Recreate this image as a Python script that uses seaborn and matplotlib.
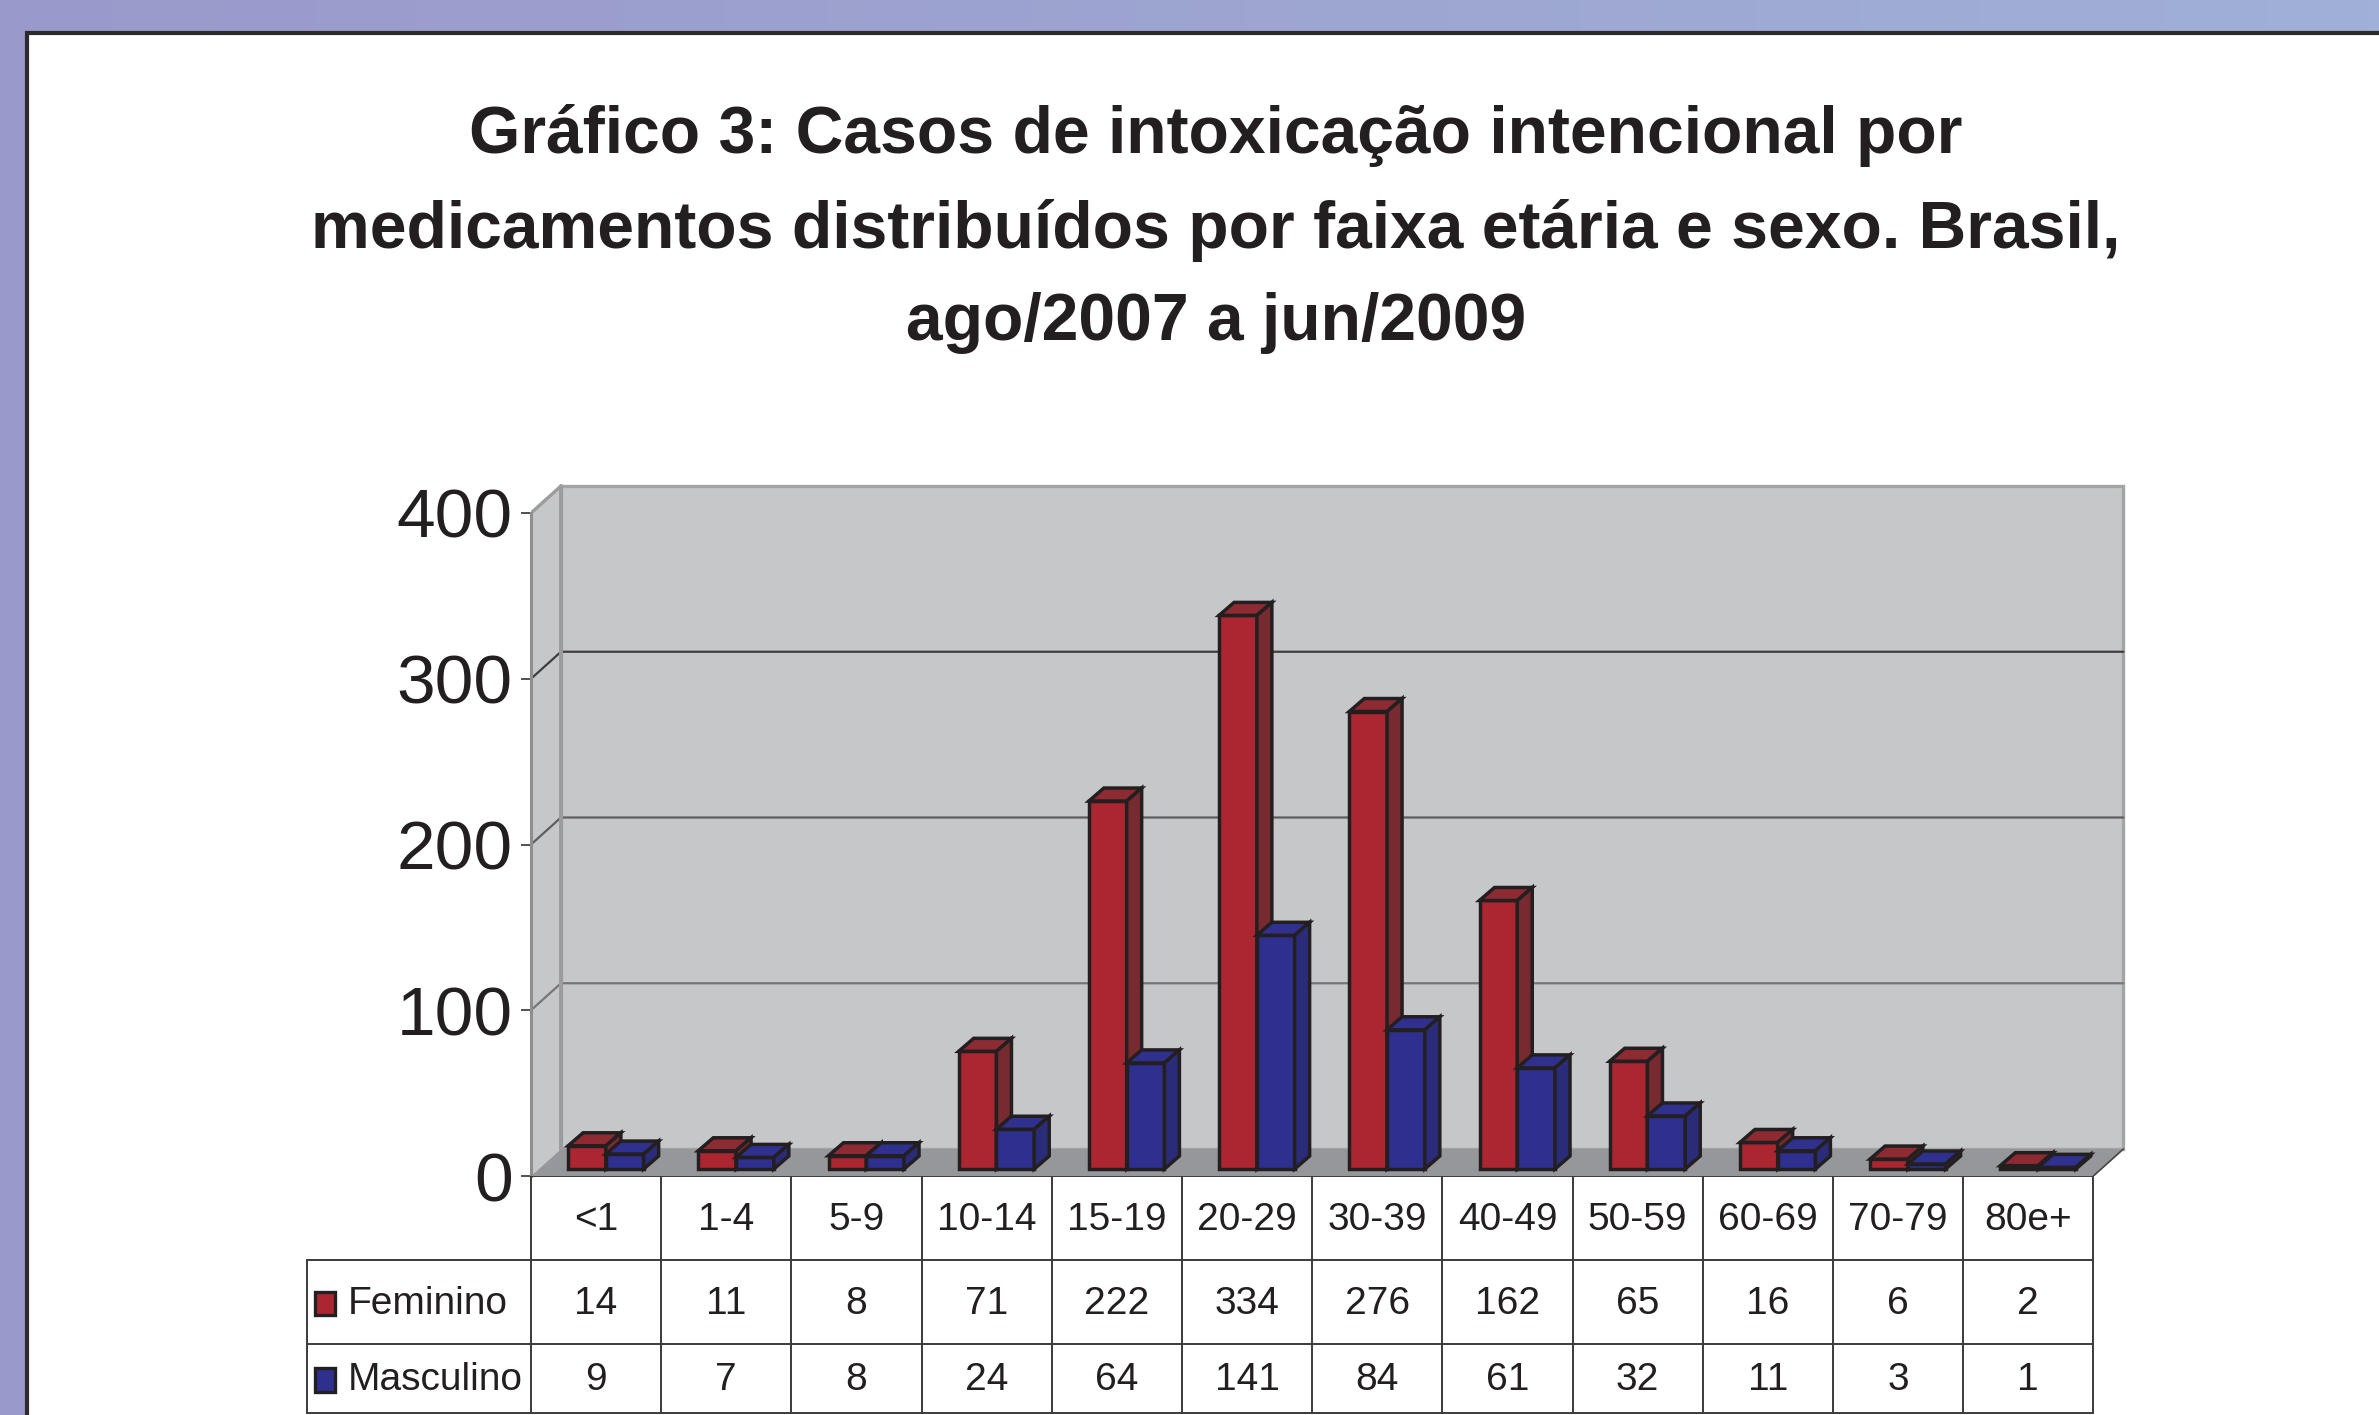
"""Grafico 3: casos de intoxicacao intencional por medicamentos, por faixa etaria e sexo."""

import matplotlib

matplotlib.use("Agg")

import matplotlib.pyplot as plt
import numpy as np
import pandas as pd
import seaborn as sns
from matplotlib import font_manager
from matplotlib.colors import to_rgba
from matplotlib.patches import Polygon, Rectangle


# dados
AGE_GROUPS = ["<1", "1-4", "5-9", "10-14", "15-19", "20-29",
              "30-39", "40-49", "50-59", "60-69", "70-79", "80e+"]
FEMININO = [14, 11, 8, 71, 222, 334, 276, 162, 65, 16, 6, 2]
MASCULINO = [9, 7, 8, 24, 64, 141, 84, 61, 32, 11, 3, 1]
SEXES = ["Feminino", "Masculino"]
Y_TICKS = [0, 100, 200, 300, 400]
TITLE_LINES = [
    "Gráfico 3: Casos de intoxicação intencional por",
    "medicamentos distribuídos por faixa etária e sexo. Brasil,",
    "ago/2007 a jun/2009",
]

# cores
FRONT = {"Feminino": "#ab2630", "Masculino": "#2e2f8f"}
TOP = {"Feminino": "#8d2a32", "Masculino": "#30318f"}
SIDE = {"Feminino": "#772a2f", "Masculino": "#2b2c79"}
EDGE = "#231f20"
WALL = "#c6c7c9"
FLOOR = "#96979a"
TEXT = "#231f20"

# fontes (a original e uma Helvetica condensada)
available = {f.name for f in font_manager.fontManager.ttflist}
if "Liberation Sans Narrow" in available:
    FONT = "Liberation Sans Narrow"
    TITLE_SIZE, TICK_SIZE, TABLE_SIZE = 52, 54, 31
else:
    FONT = "Liberation Sans"
    TITLE_SIZE, TICK_SIZE, TABLE_SIZE = 47.5, 50, 28

sns.set_style("white")
plt.rcParams["font.family"] = [FONT, "DejaVu Sans"]

# geometria em pixels da figura
W, H = 2379, 1415
X0_PX, CAT_PX = 531, 130.2       # x=0 e largura de cada faixa
Y0_PX, UNIT_PX = 1176, 1.6575    # y=0 e pixels por caso
RIGHT_PX, TOP_PX = 2150, 470

WALL_DX, WALL_DY = 30 / CAT_PX, 27 / UNIT_PX
BAR_DX, BAR_DY = 15 / CAT_PX, 13 / UNIT_PX
BAR_BASE = 7 / UNIT_PX


def fig_rect(left, top, right, bottom):
    return [left / W, 1 - bottom / H, (right - left) / W, (bottom - top) / H]


fig = plt.figure(figsize=(W / 100, H / 100), dpi=100)

# fundo roxo e painel branco
bg = fig.add_axes([0, 0, 1, 1], zorder=-10)
grad = np.linspace(0, 1, 256)[None, :, None]
left_c = np.array([154, 153, 203]) / 255
right_c = np.array([160, 176, 214]) / 255
bg.imshow(left_c + grad * (right_c - left_c), aspect="auto", extent=[0, W, H, 0])
bg.add_patch(Rectangle((27, 33), W, H, facecolor="white", edgecolor="#2b2b2b", linewidth=3))
bg.set_xlim(0, W)
bg.set_ylim(H, 0)
bg.axis("off")

# titulo
for line, base in zip(TITLE_LINES, [153, 248, 340]):
    fig.text(1216 / W, 1 - base / H, line, ha="center", va="baseline",
             fontsize=TITLE_SIZE, fontweight="bold", color=TEXT)

# grafico principal
ax = fig.add_axes(fig_rect(X0_PX, TOP_PX, RIGHT_PX, Y0_PX))
ax.set_facecolor("none")
n = len(AGE_GROUPS)

plot_data = pd.DataFrame(
    {
        "pos": np.concatenate([np.arange(n) + 0.575, np.arange(n) + 0.575]),
        "casos": FEMININO + MASCULINO,
        "sexo": ["Feminino"] * n + ["Masculino"] * n,
    }
)

# paredes e piso
ax.add_patch(Rectangle((WALL_DX, WALL_DY), n, 400, facecolor=WALL,
                       edgecolor="#a3a4a6", linewidth=2.4, zorder=0.5))
ax.add_patch(Polygon([(0, 0), (WALL_DX, WALL_DY), (WALL_DX, 400 + WALL_DY), (0, 400)],
                     facecolor=WALL, edgecolor="none", zorder=0.6))
ax.add_patch(Polygon([(0, 0), (n, 0), (n + WALL_DX, WALL_DY), (WALL_DX, WALL_DY)],
                     facecolor=FLOOR, edgecolor="none", zorder=0.7))
ax.plot([n, n + WALL_DX], [0, WALL_DY], color="#444444", linewidth=1.2, zorder=0.8)
ax.plot([WALL_DX, WALL_DX], [WALL_DY, 400 + WALL_DY], color="#9c9c9e", linewidth=2.8, zorder=0.8)
ax.plot([0, WALL_DX], [400, 400 + WALL_DY], color="#9c9c9e", linewidth=2.4, zorder=0.8)

for value, color in zip(Y_TICKS[1:4], ["#767676", "#5e5e5e", "#3e3e3e"]):
    ax.plot([0, WALL_DX, n + WALL_DX], [value, value + WALL_DY, value + WALL_DY],
            color=color, linewidth=1.6, zorder=0.75)

# barras (face frontal pelo seaborn, topo e lateral a partir delas)
sns.barplot(
    data=plot_data,
    x="pos",
    y="casos",
    hue="sexo",
    hue_order=SEXES,
    palette=FRONT,
    native_scale=True,
    width=0.58,
    saturation=1,
    errorbar=None,
    edgecolor=EDGE,
    linewidth=2.5,
    legend=False,
    ax=ax,
)

for bar in list(ax.patches):
    if not isinstance(bar, Rectangle):
        continue
    face = to_rgba(bar.get_facecolor())
    sex = None
    for key, col in FRONT.items():
        if np.allclose(face, to_rgba(col), atol=0.02):
            sex = key
    if sex is None:
        continue
    z = 3 if sex == "Feminino" else 4
    bar.set_y(BAR_BASE)
    bar.set_zorder(z)
    x0 = bar.get_x()
    x1 = x0 + bar.get_width()
    y0 = BAR_BASE
    y1 = y0 + bar.get_height()
    ax.add_patch(Polygon([(x0, y1), (x1, y1), (x1 + BAR_DX, y1 + BAR_DY), (x0 + BAR_DX, y1 + BAR_DY)],
                         facecolor=TOP[sex], edgecolor=EDGE, linewidth=2.5, zorder=z,
                         joinstyle="miter"))
    ax.add_patch(Polygon([(x1, y0), (x1 + BAR_DX, y0 + BAR_DY), (x1 + BAR_DX, y1 + BAR_DY), (x1, y1)],
                         facecolor=SIDE[sex], edgecolor=EDGE, linewidth=2.5, zorder=z,
                         joinstyle="miter"))

ax.set_xlim(0, (RIGHT_PX - X0_PX) / CAT_PX)
ax.set_ylim(0, (Y0_PX - TOP_PX) / UNIT_PX)
ax.set_xticks([])
ax.set_xlabel("")
ax.set_ylabel("")
ax.set_yticks(Y_TICKS)
ax.set_yticklabels([str(v) for v in Y_TICKS])
ax.tick_params(axis="y", length=7, width=1.2, color="#333333", pad=6,
               labelsize=TICK_SIZE, labelcolor=TEXT, left=True)
for side in ["top", "right", "bottom"]:
    ax.spines[side].set_visible(False)
ax.spines["left"].set_bounds(0, 400)
ax.spines["left"].set_color("#8e8e8e")
ax.spines["left"].set_linewidth(2.2)

# tabela de dados
tab = fig.add_axes(fig_rect(306, Y0_PX, RIGHT_PX, Y0_PX + 252))
tab.set_xlim((306 - X0_PX) / CAT_PX, (RIGHT_PX - X0_PX) / CAT_PX)
tab.set_ylim(3, 0)
tab.axis("off")
left_x = (307 - X0_PX) / CAT_PX
bottom_y = 2.82
line_kw = dict(color="#3a3a3a", linewidth=1.4)

tab.plot([0, n], [0, 0], **line_kw)
for y in [1, 2, bottom_y]:
    tab.plot([left_x, n], [y, y], **line_kw)
for i in range(n + 1):
    tab.plot([i, i], [0, bottom_y], **line_kw)
tab.plot([left_x, left_x], [1, bottom_y], **line_kw)

for i, age in enumerate(AGE_GROUPS):
    tab.text(i + 0.5, 0.52, age, ha="center", va="center", fontsize=TABLE_SIZE, color=TEXT)
    tab.text(i + 0.5, 1.52, str(FEMININO[i]), ha="center", va="center", fontsize=TABLE_SIZE, color=TEXT)
    tab.text(i + 0.5, 2.43, str(MASCULINO[i]), ha="center", va="center", fontsize=TABLE_SIZE, color=TEXT)

for row_y, sex in zip([1.52, 2.43], SEXES):
    tab.add_patch(Rectangle(((315 - X0_PX) / CAT_PX, row_y - 0.14), 20 / CAT_PX, 0.28,
                            facecolor=FRONT[sex], edgecolor=EDGE, linewidth=2.4))
    tab.text((348 - X0_PX) / CAT_PX, row_y, sex, ha="left", va="center",
             fontsize=TABLE_SIZE, color=TEXT)

fig.savefig("out.png", dpi=100)
plt.close(fig)
